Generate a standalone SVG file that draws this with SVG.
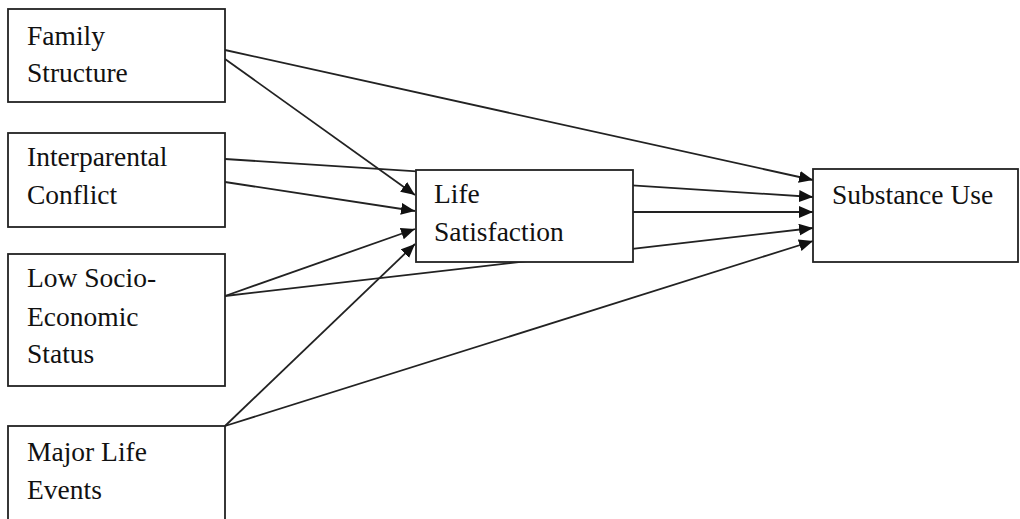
<svg xmlns="http://www.w3.org/2000/svg" width="1020" height="519" viewBox="0 0 1020 519">
<style>
.box{fill:#fff;stroke:#222;stroke-width:1.8}
.lbl{font-family:"Liberation Serif","Times New Roman",serif;font-size:27.5px;fill:#111}
.edge{stroke:#222;stroke-width:1.8;fill:none;marker-end:url(#ah)}
</style>
<defs>
<marker id="ah" markerUnits="userSpaceOnUse" markerWidth="16" markerHeight="13" refX="14" refY="6" orient="auto">
<path d="M0,0 L14,6 L0,12 z" fill="#111"/>
</marker>
</defs>
<rect width="1020" height="519" fill="#fff"/>
<g id="connectors">
<line class="edge" x1="225" y1="50" x2="813" y2="180"/>
<line class="edge" x1="225" y1="59" x2="415" y2="195"/>
<line class="edge" x1="225" y1="159" x2="813" y2="197"/>
<line class="edge" x1="225" y1="182" x2="415" y2="211"/>
<line class="edge" x1="225" y1="296" x2="415" y2="229"/>
<line class="edge" x1="225" y1="296" x2="813" y2="228"/>
<line class="edge" x1="225" y1="426" x2="415" y2="244"/>
<line class="edge" x1="225" y1="426" x2="813" y2="241"/>
<line class="edge" x1="633" y1="212" x2="813" y2="212"/>
</g>
<g id="family-structure">
<rect class="box" x="8" y="9" width="217" height="93"/>
<text class="lbl" x="27" y="45">Family</text>
<text class="lbl" x="27" y="82">Structure</text>
</g>
<g id="interparental-conflict">
<rect class="box" x="8" y="133" width="217" height="94"/>
<text class="lbl" x="27" y="166">Interparental</text>
<text class="lbl" x="27" y="204">Conflict</text>
</g>
<g id="low-ses">
<rect class="box" x="8" y="254" width="217" height="132"/>
<text class="lbl" x="27" y="287">Low Socio-</text>
<text class="lbl" x="27" y="326">Economic</text>
<text class="lbl" x="27" y="363">Status</text>
</g>
<g id="major-life-events">
<rect class="box" x="8" y="426" width="217" height="100"/>
<text class="lbl" x="27" y="461">Major Life</text>
<text class="lbl" x="27" y="499">Events</text>
</g>
<g id="life-satisfaction">
<rect class="box" x="416" y="170" width="217" height="92"/>
<text class="lbl" x="434" y="203">Life</text>
<text class="lbl" x="434" y="241">Satisfaction</text>
</g>
<g id="substance-use">
<rect class="box" x="813" y="169" width="205" height="93"/>
<text class="lbl" x="832" y="204">Substance Use</text>
</g>
</svg>
